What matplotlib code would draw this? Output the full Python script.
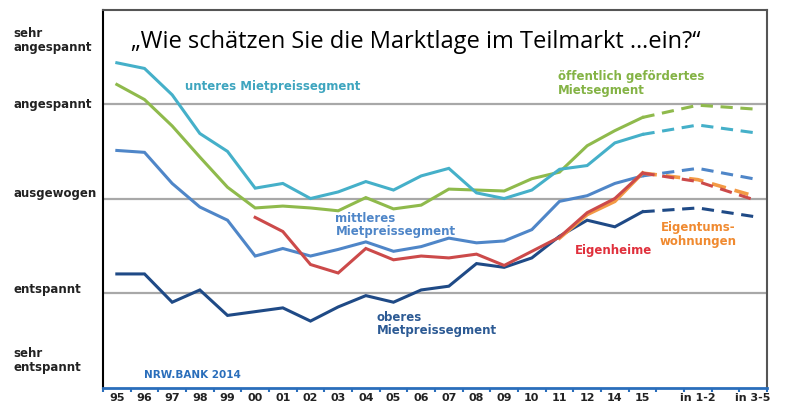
import matplotlib.pyplot as plt
import numpy as np

# x categories (blank slots between the forecast labels)
years = ['95', '96', '97', '98', '99', '00', '01', '02', '03', '04',
         '05', '06', '07', '08', '09', '10', '11', '12', '14', '15']
forecast_labels = ['in 1-2', 'in 3-5']

# survey scores: 1 = sehr entspannt ... 5 = sehr angespannt
unteres = [4.44, 4.38, 4.10, 3.69, 3.50, 3.11, 3.16, 3.00, 3.07, 3.18,
           3.09, 3.24, 3.32, 3.06, 3.00, 3.09, 3.31, 3.35, 3.59, 3.68]
unteres_fc = [3.78, 3.70]

gefoerdert = [4.21, 4.05, 3.77, 3.44, 3.12, 2.90, 2.92, 2.90, 2.87, 3.01,
              2.89, 2.93, 3.10, 3.09, 3.08, 3.21, 3.28, 3.56, 3.72, 3.86]
gefoerdert_fc = [3.99, 3.95]

mittleres = [3.51, 3.49, 3.16, 2.91, 2.77, 2.39, 2.47, 2.39, 2.46, 2.54,
             2.44, 2.49, 2.58, 2.53, 2.55, 2.67, 2.97, 3.03, 3.16, 3.24]
mittleres_fc = [3.32, 3.21]

oberes = [2.20, 2.20, 1.90, 2.03, 1.76, 1.80, 1.84, 1.70, 1.85, 1.97,
          1.90, 2.03, 2.07, 2.31, 2.27, 2.37, 2.60, 2.77, 2.70, 2.86]
oberes_fc = [2.90, 2.81]

eigenheime = [None, None, None, None, None, 2.80, 2.65, 2.30, 2.21, 2.47,
              2.35, 2.39, 2.37, 2.41, 2.29, 2.44, 2.59, 2.85, 3.00, 3.27]
eigenheime_fc = [3.18, 2.99]

etw = [None] * 16 + [2.58, 2.83, 2.97, 3.27]
etw_fc = [3.20, 3.03]

level_labels = ['sehr\nentspannt', 'entspannt', 'ausgewogen', 'angespannt', 'sehr\nangespannt']

fig = plt.figure(figsize=(7.85, 4.07), dpi=100)
ax = fig.add_axes([103 / 785, 1 - 388 / 407, 664 / 785, 378 / 407])

n = len(years)
x_years = np.arange(n)
x_fc = np.array([n - 1, n + 1, n + 3])  # 15, in 1-2, in 3-5


def draw(vals, fc, color, lw=2.2, z=3):
    xs = [i for i, v in zip(x_years, vals) if v is not None]
    ys = [v for v in vals if v is not None]
    ax.plot(xs, ys, color=color, lw=lw, zorder=z, solid_joinstyle='miter')
    ax.plot(x_fc, [ys[-1]] + fc, color=color, lw=lw, ls=(0, (4, 2.5)), zorder=z)


draw(gefoerdert, gefoerdert_fc, '#8fba4c')
draw(unteres, unteres_fc, '#45b0c9')
draw(mittleres, mittleres_fc, '#4f86c8')
draw(oberes, oberes_fc, '#1f4a86')
draw(etw, etw_fc, '#f39a45', lw=2.6, z=4)
draw(eigenheime, eigenheime_fc, '#cc4a4a', z=5)

# grid lines at the three middle levels
for lv in [2, 3, 4]:
    ax.axhline(lv, color='#a8a8a8', lw=1.6, zorder=1)

ax.set_xlim(-0.5, n + 3.5)
ax.set_ylim(0.99, 5.0)

# boundary ticks, labels at slot centres
ax.set_xticks(np.arange(-0.5, n + 4, 1.0))
ax.set_xticklabels([])
ax.tick_params(axis='x', which='major', direction='out', length=3, width=1.5, color='#2a6ebb')
ax.set_xticks(list(x_years) + [n + 1, n + 3], minor=True)
ax.set_xticklabels(years + forecast_labels, minor=True, fontsize=8,
                   fontweight='bold', color='#222222')
ax.tick_params(axis='x', which='minor', length=0, pad=3.5)
ax.set_yticks([])

ax.spines['left'].set_color('black')
ax.spines['left'].set_linewidth(1.5)
ax.spines['bottom'].set_color('#2a6ebb')
ax.spines['bottom'].set_linewidth(2)
for s in ['top', 'right']:
    ax.spines[s].set_color('#555555')
    ax.spines[s].set_linewidth(1.5)

# level labels left of the axes
lv_y = [1.28, 2.04, 3.05, 4.0, 4.68]
for y, lab in zip(lv_y, level_labels):
    ax.text(-3.75, y, lab, fontsize=8.5, fontweight='bold', color='#222222',
            ha='left', va='center', linespacing=1.1, clip_on=False)

ax.text(0.5, 4.66, '\u201eWie schätzen Sie die Marktlage im Teilmarkt \u2026ein?\u201c',
        fontsize=17, family='Open Sans', color='black', ha='left', va='center')

ax.text(2.45, 4.19, 'unteres Mietpreissegment', fontsize=8.5, fontweight='bold',
        color='#3ea5bf', ha='left', va='center')
ax.text(15.95, 4.22, 'öffentlich gefördertes\nMietsegment', fontsize=8.5,
        fontweight='bold', color='#84b345', ha='left', va='center', linespacing=1.05)
ax.text(7.9, 2.72, 'mittleres\nMietpreissegment', fontsize=8.5, fontweight='bold',
        color='#4f86c8', ha='left', va='center', linespacing=1.05)
ax.text(9.4, 1.67, 'oberes\nMietpreissegment', fontsize=8.5, fontweight='bold',
        color='#2c5a94', ha='left', va='center', linespacing=1.05)
ax.text(16.55, 2.45, 'Eigenheime', fontsize=8.5, fontweight='bold',
        color='#e0303c', ha='left', va='center')
ax.text(21.0, 2.62, 'Eigentums-\nwohnungen', fontsize=8.5, fontweight='bold',
        color='#f08a30', ha='center', va='center', linespacing=1.05)
ax.text(1.0, 1.13, 'NRW.BANK 2014', fontsize=7.5, fontweight='bold',
        color='#2a6ebb', ha='left', va='center')

fig.savefig('out.png', dpi=100)
